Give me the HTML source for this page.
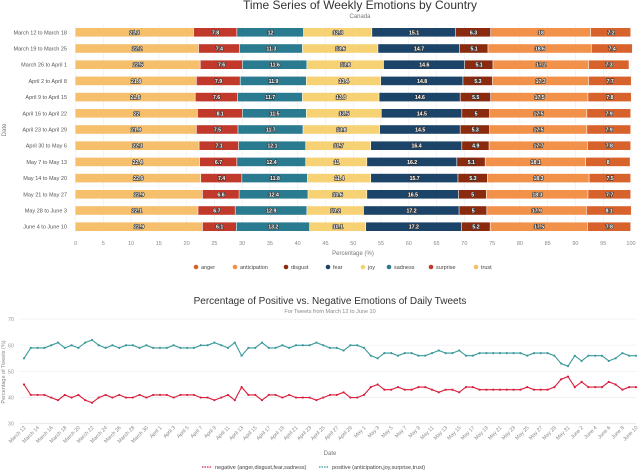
<!DOCTYPE html>
<html><head><meta charset="utf-8"><style>
body{margin:0;background:#fff;width:640px;height:470px;overflow:hidden;font-family:"Liberation Sans",sans-serif}
svg text{font-family:"Liberation Sans",sans-serif}
</style></head><body>
<svg id="c" width="640" height="470" viewBox="0 0 640 470" xmlns="http://www.w3.org/2000/svg">
<text x="360" y="9" font-size="12" text-anchor="middle" fill="#333">Time Series of Weekly Emotions by Country</text>
<text x="360" y="18" font-size="6" text-anchor="middle" fill="#777">Canada</text>
<text transform="translate(6,130) rotate(-90)" font-size="6" text-anchor="middle" fill="#777">Date</text>
<text x="353" y="255" font-size="6" text-anchor="middle" fill="#777">Percentage (%)</text>
<g id="bars"></g>
<g id="blegend"></g>
<text x="330" y="304" font-size="10" text-anchor="middle" fill="#333">Percentage of Positive vs. Negative Emotions of Daily Tweets</text>
<text x="330" y="313" font-size="5.5" text-anchor="middle" fill="#888">For Tweets from March 12 to June 10</text>
<text transform="translate(5,372) rotate(-90)" font-size="5.5" text-anchor="middle" fill="#888">Percentage of Tweets (%)</text>
<text x="330" y="455" font-size="6" text-anchor="middle" fill="#777">Date</text>
<g id="lines"></g>
<g id="llegend"></g>
</svg>
<script>
const weeks=["March 12 to March 18","March 19 to March 25","March 26 to April 1","April 2 to April 8","April 9 to April 15","April 16 to April 22","April 23 to April 29","April 30 to May 6","May 7 to May 13","May 14 to May 20","May 21 to May 27","May 28 to June 3","June 4 to June 10"];
const emotions=["trust","surprise","sadness","joy","fear","disgust","anticipation","anger"];
const trust=[21.3,22.2,22.5,21.8,21.6,22,21.8,22.3,22.4,22.6,22.9,22.1,22.9];
const surprise=[7.8,7.4,7.6,7.9,7.6,8.1,7.5,7.1,6.7,7.4,6.6,6.7,6.1];
const sadness=[12,11.3,11.6,11.9,11.7,11.5,11.7,12.1,12.4,11.8,12.4,12.9,13.2];
const joy=[12.3,13.6,13.8,13.4,13.8,13.5,13.8,11.7,11,11.4,10.6,10.2,10.1];
const fear=[15.1,14.7,14.6,14.8,14.6,14.5,14.5,16.4,16.2,15.7,16.5,17.2,17.2];
const disgust=[6.3,5.1,5.1,5.3,5.5,5,5.3,4.9,5.1,5.3,5,5,5.2];
const anticipation=[18,18.6,17.2,17.3,17.5,17.5,17.5,17.7,18.1,18.3,18.3,17.9,17.5];
const anger=[7.2,7.4,7.3,7.7,7.8,7.9,7.9,7.8,8,7.5,7.7,8.1,7.8];
const xTicks=[0,5,10,15,20,25,30,35,40,45,50,55,60,65,70,75,80,85,90,95,100];
const legendOrder=["anger","anticipation","disgust","fear","joy","sadness","surprise","trust"];

const dayLabels=["March 12","March 14","March 16","March 18","March 20","March 22","March 24","March 26","March 28","March 30","April 1","April 3","April 5","April 7","April 9","April 11","April 13","April 15","April 17","April 19","April 21","April 23","April 25","April 27","April 29","May 1","May 3","May 5","May 7","May 9","May 11","May 13","May 15","May 17","May 19","May 21","May 23","May 25","May 27","May 29","May 31","June 2","June 4","June 6","June 8","June 10"];
const positive=[55,59,59,59,60,61,59,60,59,61,62,60,59,60,59,60,60,59,60,59,
59,59,60,59,59,59,60,60,61,60,59,61,56,59,59,61,59,59,60,59,60,60,60,61,60,59,59,58,60,60,
59,56,55,57,57,56,57,57,56,56,57,58,57,57,58,56,56,57,57,57,57,57,57,57,56,57,57,57,56,53,52,
56,54,56,56,56,54,55,57,56,56];
const negative=[45,41,41,41,40,39,41,40,41,39,38,40,41,40,41,40,40,41,40,41,
41,41,40,41,41,41,40,40,39,40,41,39,44,41,41,39,41,41,40,41,40,40,40,39,40,41,41,42,40,40,
41,44,45,43,43,44,43,43,44,44,43,42,43,43,42,44,44,43,43,43,43,43,43,43,44,43,43,43,44,47,48,
44,46,44,44,44,46,45,43,44,44];
const yTicks=[30,40,50,60,70];

const colors={trust:"#f5bf6b",surprise:"#c0392b",sadness:"#2a7b8f",joy:"#f7d275",fear:"#1c4468",disgust:"#8a2b10",anticipation:"#f2914a",anger:"#d8622c"};
const series={trust,surprise,sadness,joy,fear,disgust,anticipation,anger};
const NS="http://www.w3.org/2000/svg";
function mk(tag,attrs,parent,txt){const e=document.createElementNS(NS,tag);for(const k in attrs)e.setAttribute(k,attrs[k]);if(txt!==undefined)e.textContent=txt;parent.appendChild(e);return e;}
// bar chart axes
const bx=v=>75.5+v*5.555;
const by=i=>32.3+i*16.2;
const bars=document.getElementById('bars');
xTicks.forEach(t=>{
 const l=mk('line',{x1:bx(t),x2:bx(t),y1:25,y2:233,stroke:"#ececec","stroke-width":0.6},bars);
 
 
 const tx=mk('text',{x:bx(t),y:245,"font-size":5.5,"text-anchor":"middle",fill:"#888"},bars,t);
 
 
});
weeks.forEach((w,i)=>{
 const lab=mk('text',{x:67,y:by(i)+2,"font-size":5.5,"text-anchor":"end",fill:"#555"},bars,w);
 
 
 let acc=0;
 emotions.forEach(em=>{
  const v=series[em][i];
  const r=mk('rect',{x:bx(acc),y:by(i)-4.3,width:Math.max(0,bx(acc+v)-bx(acc)-0.6),height:8.6,fill:colors[em]},bars);
  
  
  const t=mk('text',{x:(bx(acc)+bx(acc+v))/2,y:by(i)+2,"font-size":5.2,"font-weight":"bold","text-anchor":"middle",fill:"#fff",stroke:"#333","stroke-width":1.2,"paint-order":"stroke"},bars,v);
  
  
  acc+=v;
 });
});
const bl=document.getElementById('blegend');
const lx=[196,235,286,328,363,389,431,476];
legendOrder.forEach((em,k)=>{
 const c=mk('circle',{cx:lx[k],cy:267,r:2.3,fill:colors[em]},bl);
 
 
 const t=mk('text',{x:lx[k]+5,y:269,"font-size":5.5,fill:"#444"},bl,em);
 
 
});
// line chart
const lxs=i=>24+i*(612/(positive.length-1));
const lys=v=>423.7-(v-30)*2.615;
const lg=document.getElementById('lines');
yTicks.forEach(t=>{
 const l=mk('line',{x1:20,x2:636,y1:lys(t),y2:lys(t),stroke:t==30?"#dde3ea":"#eef0f2","stroke-width":0.8},lg);
 
 
 const tx=mk('text',{x:14,y:lys(t)+2,"font-size":5.5,"text-anchor":"end",fill:"#999"},lg,t);
 
 
});
dayLabels.forEach((d,k)=>{
 const x=lxs(k*2);
 const t=mk('text',{transform:`translate(${x+2},${428}) rotate(-45)`,"font-size":5.2,"text-anchor":"end",fill:"#888"},lg,d);
 
 
});
function drawSeries(arr,color,name){
 const pts=arr.map((v,i)=>lxs(i).toFixed(1)+','+lys(v).toFixed(1)).join(' ');
 const p=mk('polyline',{points:pts,fill:"none",stroke:color,"stroke-width":1.1},lg);
 
 
 arr.forEach((v,i)=>{
  const c=mk('circle',{cx:lxs(i),cy:lys(v),r:1.1,fill:color},lg);
  
  
 });
}
drawSeries(positive,"#3a9a9b","positive");
drawSeries(negative,"#d81e3c","negative");
const ll=document.getElementById('llegend');
[["negative (anger,disgust,fear,sadness)","#d81e3c",202],["positive (anticipation,joy,surprise,trust)","#3a9a9b",319]].forEach(([t,c,x])=>{
 const l=mk('line',{x1:x,x2:x+10,y1:467,y2:467,stroke:c,"stroke-width":1.3,"stroke-dasharray":"1.5,1"},ll);
 
 
 const tx=mk('text',{x:x+13,y:469,"font-size":5.5,fill:"#444"},ll,t);
 
 
});
</script>
</body></html>
